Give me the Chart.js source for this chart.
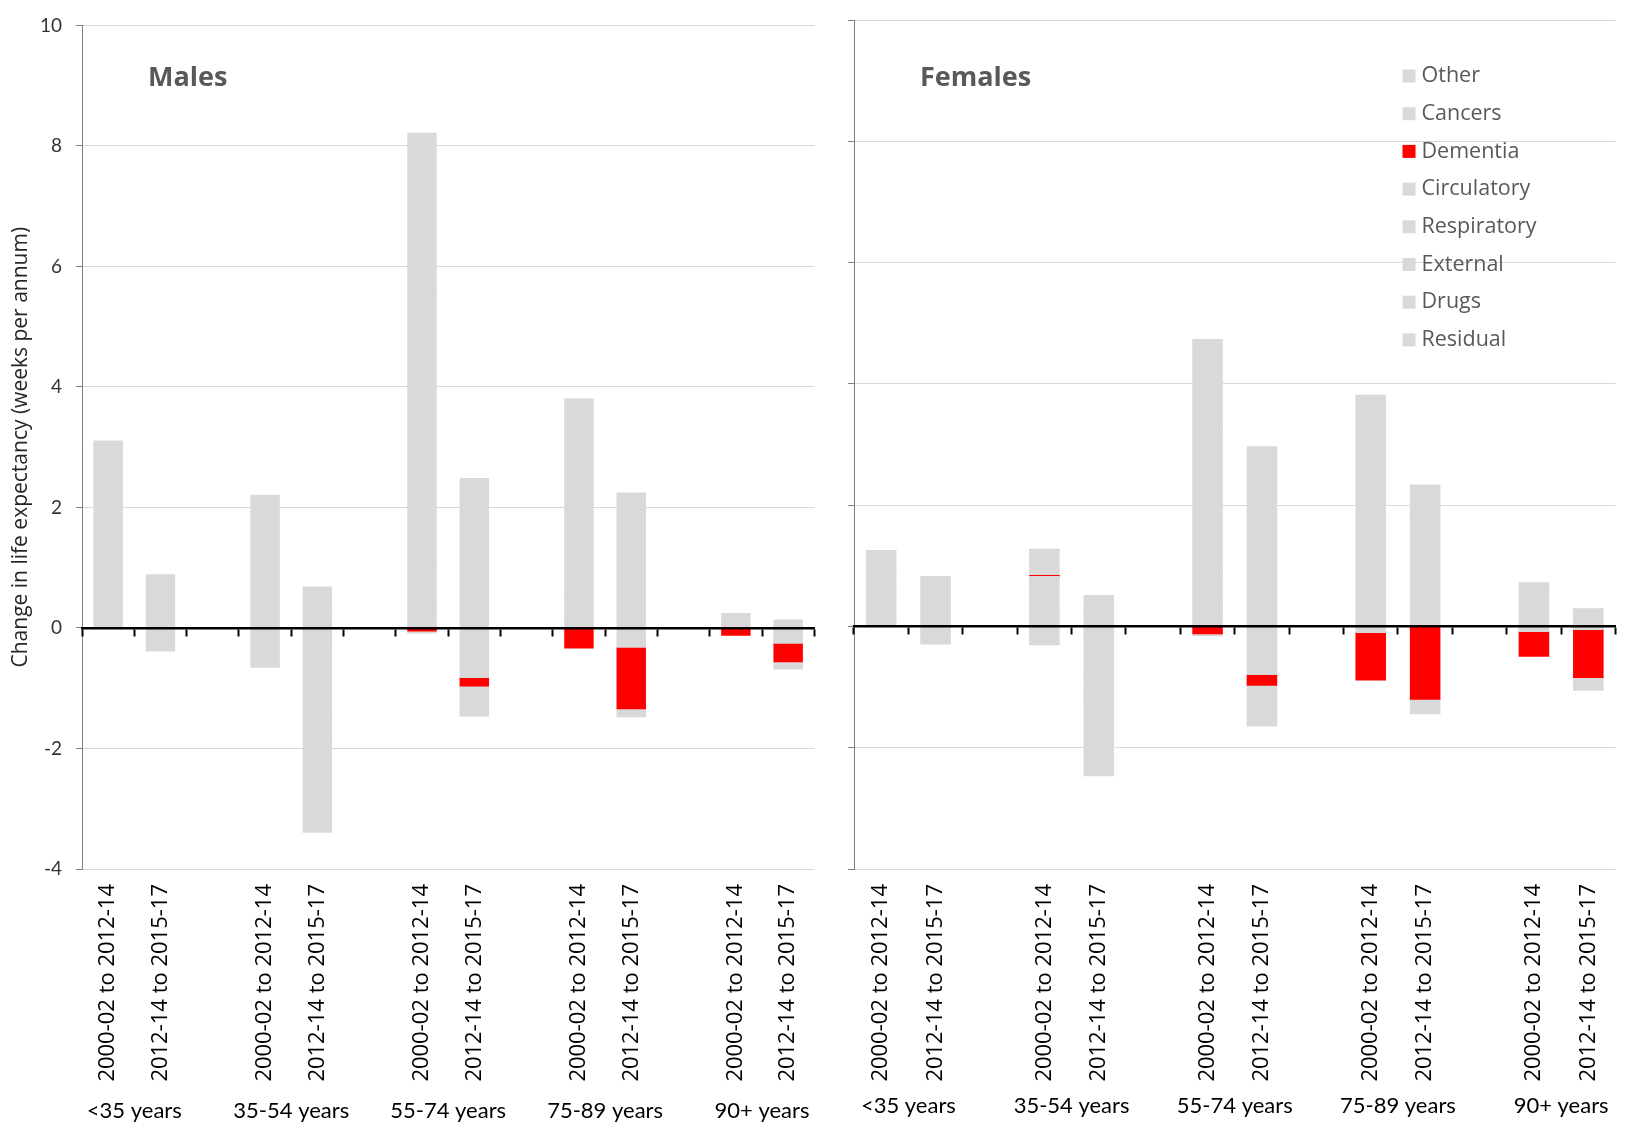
<!DOCTYPE html>
<html>
<head>
<meta charset="utf-8">
<title>Change in life expectancy by cause, age group and period</title>
<script src="https://cdn.jsdelivr.net/npm/chart.js@4.4.1/dist/chart.umd.min.js"></script>
<style>
  html, body { margin: 0; padding: 0; background: #fff; }
  #wrap { position: relative; width: 1630px; height: 1129px; overflow: hidden; }
  #males { position: absolute; left: 0; top: 0; }
  #females { position: absolute; left: 830px; top: 0; }
</style>
</head>
<body>
<div id="wrap">
  <canvas id="males" width="830" height="1129"></canvas>
  <canvas id="females" width="800" height="1129"></canvas>
</div>
<script>
// Periods compared within each age group, and the age groups themselves
const periods = ["2000-02 to 2012-14", "2012-14 to 2015-17"];
const ageGroups = ["<35 years", "35-54 years", "55-74 years", "75-89 years", "90+ years"];

// Causes in legend order (top to bottom) and their fill colours
const causes = ["Other", "Cancers", "Dementia", "Circulatory", "Respiratory", "External", "Drugs", "Residual"];
const causeColours = ["#d9d9d9", "#d9d9d9", "#ff0000", "#d9d9d9", "#d9d9d9", "#d9d9d9", "#d9d9d9", "#d9d9d9"];

// Contributions (weeks per annum); order: age group, then period
const maleOther       = [0.90, 0.30, 0.30, -1.40, -0.03, -0.50, 0.15, -0.13, 0.00, -0.12];
const maleCancers     = [0.35, 0.18, 0.50, 0.43, 2.60, 1.13, 0.80, 0.64, 0.00, 0.00];
const maleDementia    = [0.00, 0.00, 0.00, 0.00, -0.05, -0.14, -0.33, -1.02, -0.12, -0.31];
const maleCirculatory = [0.55, 0.10, 1.05, 0.25, 4.60, 1.35, 2.30, 1.60, 0.20, 0.13];
const maleRespiratory = [0.15, 0.00, 0.10, -0.14, 0.60, -0.30, 0.45, -0.22, 0.04, -0.20];
const maleExternal    = [0.90, 0.30, 0.25, -0.45, 0.15, -0.05, 0.00, 0.00, 0.00, 0.00];
const maleDrugs       = [0.00, -0.30, -0.55, -1.20, 0.00, -0.12, 0.00, 0.00, 0.00, 0.00];
const maleResidual    = [0.25, -0.08, -0.10, -0.20, 0.26, -0.35, 0.10, -0.10, 0.00, -0.05];

const femaleOther       = [0.30, 0.35, 0.00, -1.30, -0.03, -0.67, 0.20, -0.24, 0.00, -0.21];
const femaleCancers     = [0.30, 0.22, 0.43, 0.30, 1.50, 1.36, 0.55, 0.48, 0.12, 0.00];
const femaleDementia    = [0.00, 0.00, 0.02, 0.00, -0.12, -0.18, -0.78, -1.20, -0.41, -0.79];
const femaleCirculatory = [0.20, 0.10, 0.52, 0.21, 2.30, 1.60, 2.60, 1.85, 0.60, 0.29];
const femaleRespiratory = [0.00, 0.00, 0.08, -0.10, 0.55, -0.40, 0.46, 0.00, -0.08, -0.05];
const femaleExternal    = [0.35, 0.15, 0.12, -0.20, 0.10, 0.00, 0.00, 0.00, 0.00, 0.00];
const femaleDrugs       = [0.00, -0.22, -0.30, -0.70, 0.00, -0.09, 0.00, 0.00, 0.00, 0.00];
const femaleResidual    = [0.10, -0.07, 0.10, -0.16, 0.28, -0.30, -0.10, 0.00, 0.00, 0.00];

// Value axis range
const yMin = -4;
const yMax = 10;
const yStep = 2;

const maleSeries = [maleOther, maleCancers, maleDementia, maleCirculatory, maleRespiratory, maleExternal, maleDrugs, maleResidual];
const femaleSeries = [femaleOther, femaleCancers, femaleDementia, femaleCirculatory, femaleRespiratory, femaleExternal, femaleDrugs, femaleResidual];

// Category slots: two periods per age group with an empty slot between groups
const slotLabels = [];
ageGroups.forEach((g, i) => {
  periods.forEach(p => slotLabels.push(p));
  if (i < ageGroups.length - 1) slotLabels.push("");
});
const groupCentres = ageGroups.map((g, i) => i * (periods.length + 1) + periods.length / 2);

function spread(values) {
  const out = [];
  let k = 0;
  ageGroups.forEach((g, i) => {
    periods.forEach(() => out.push(values[k++]));
    if (i < ageGroups.length - 1) out.push(null);
  });
  return out;
}

// Stack order runs from the zero line outward: Residual first, Other last.
// Segments are inflated slightly so touching pieces merge without seams;
// empty (zero) segments are left uninflated so they stay invisible.
function buildDatasets(series) {
  const sets = causes.map((name, i) => ({
    label: name,
    data: spread(series[i]),
    backgroundColor: causeColours[i],
    borderWidth: 0,
    inflateAmount: (ctx) => (ctx.raw === 0 || ctx.raw === null ? 0 : 0.6),
    xAxisID: "x",
    yAxisID: "y",
    categoryPercentage: 1.0,
    barPercentage: 0.54
  }));
  return sets.reverse();
}

// Bold panel heading drawn inside the plot area
const panelLabel = {
  id: "panelLabel",
  afterDraw(chart, args, opts) {
    const { ctx, chartArea } = chart;
    ctx.save();
    ctx.font = 'bold 27px "Open Sans"';
    ctx.fillStyle = "#595959";
    ctx.textBaseline = "middle";
    ctx.textAlign = "left";
    ctx.fillText(opts.text, chartArea.left + opts.dx, opts.y);
    ctx.restore();
  }
};

// Legend listed inside the plot area, top to bottom in cause order
const causeLegend = {
  id: "causeLegend",
  afterDraw(chart, args, opts) {
    if (!opts.show) return;
    const { ctx, chartArea } = chart;
    const x = chartArea.right - opts.fromRight;
    ctx.save();
    ctx.font = '21.5px "Open Sans"';
    ctx.textBaseline = "middle";
    ctx.textAlign = "left";
    causes.forEach((name, i) => {
      const ds = chart.data.datasets.find(d => d.label === name);
      const y = opts.top + i * opts.step;
      ctx.fillStyle = ds.backgroundColor;
      ctx.fillRect(x, y - opts.box / 2, opts.box, opts.box);
      ctx.fillStyle = "#595959";
      ctx.fillText(name, x + opts.box + 6, y);
    });
    ctx.restore();
  }
};

function makeConfig(series, panel) {
  return {
    type: "bar",
    data: { labels: slotLabels, datasets: buildDatasets(series) },
    plugins: [panelLabel, causeLegend],
    options: {
      responsive: false,
      maintainAspectRatio: false,
      animation: false,
      events: [],
      layout: { padding: { left: 0, right: panel.padRight, top: 20, bottom: 4 } },
      plugins: {
        legend: { display: false },
        tooltip: { enabled: false },
        panelLabel: { text: panel.title, dx: 66, y: 78 },
        causeLegend: { show: panel.legend, fromRight: 213, top: 76, step: 37.7, box: 13 }
      },
      scales: {
        x: {
          type: "category",
          position: "bottom",
          stacked: true,
          offset: true,
          weight: 0,
          grid: { display: false, drawTicks: false },
          border: { display: false },
          ticks: {
            autoSkip: false,
            minRotation: 90,
            maxRotation: 90,
            padding: 15,
            color: "#000",
            font: { family: '"Open Sans"', size: 22 }
          },
          afterFit(scale) { scale.height = 216; }
        },
        xz: {
          type: "category",
          position: { y: 0 },
          offset: true,
          grid: {
            display: true,
            offset: true,
            drawOnChartArea: false,
            drawTicks: true,
            tickLength: 7,
            tickWidth: 2,
            tickColor: "#000",
            z: 1
          },
          border: { display: true, color: "#000", width: 2.5, z: 1 },
          ticks: { display: false },
          afterFit(scale) { scale.height = 0; }
        },
        xg: {
          type: "linear",
          position: "bottom",
          offset: false,
          weight: 1,
          min: 0,
          max: slotLabels.length,
          grid: { display: false, drawTicks: false },
          border: { display: false },
          afterBuildTicks(scale) { scale.ticks = groupCentres.map(v => ({ value: v })); },
          ticks: {
            autoSkip: false,
            minRotation: 0,
            maxRotation: 0,
            padding: panel.groupPad,
            color: "#000",
            font: { family: "Lato", size: 22 },
            callback: (value, index) => ageGroups[index]
          },
          afterFit(scale) { scale.height = 40; }
        },
        y: {
          type: "linear",
          stacked: true,
          min: yMin,
          max: yMax,
          grid: {
            color: "#d9d9d9",
            lineWidth: 1,
            drawTicks: true,
            tickLength: 6,
            tickColor: "#7f7f7f"
          },
          border: { display: true, color: "#7f7f7f", width: 1 },
          ticks: {
            display: panel.showTicks,
            stepSize: yStep,
            padding: 14,
            color: "#333",
            font: { family: "Lato", size: 19 }
          },
          title: {
            display: panel.showTicks,
            text: "Change in life expectancy (weeks per annum)",
            color: "#262626",
            font: { family: '"Open Sans"', size: 21 },
            padding: { top: 8, bottom: 8 }
          },
          afterFit(scale) { scale.width = panel.axisWidth; }
        }
      }
    }
  };
}

function draw() {
  Chart.defaults.font.family = '"Open Sans", sans-serif';
  new Chart(document.getElementById("males"), makeConfig(maleSeries, {
    title: "Males", legend: false, showTicks: true, axisWidth: 82, padRight: 12, groupPad: 13
  }));
  new Chart(document.getElementById("females"), makeConfig(femaleSeries, {
    title: "Females", legend: true, showTicks: false, axisWidth: 24, padRight: 8, groupPad: 8
  }));
}

const fontsToLoad = ['19px Lato', '22px Lato', '21px "Open Sans"', '21.5px "Open Sans"', '22px "Open Sans"', 'bold 27px "Open Sans"'];
Promise.all(fontsToLoad.map(f => document.fonts.load(f))).then(draw, draw);
</script>
</body>
</html>
